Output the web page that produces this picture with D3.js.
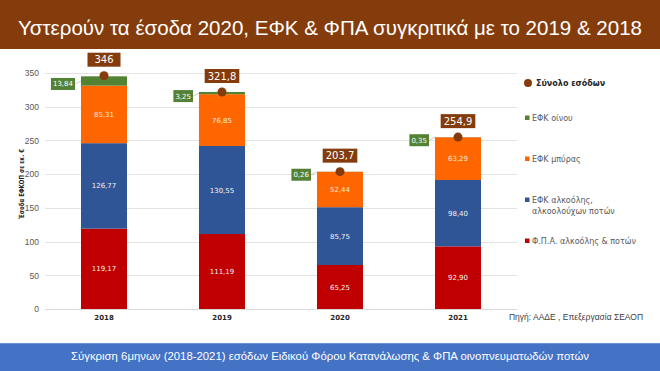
<!DOCTYPE html>
<html>
<head>
<meta charset="utf-8">
<script src="https://cdn.jsdelivr.net/npm/d3@7"></script>
<style>
  html, body { margin: 0; padding: 0; background: #fff; }
  svg { display: block; }
</style>
</head>
<body>
<svg id="chart" width="660" height="371"></svg>
<script>
// data (εκ. €)
const years = ["2018", "2019", "2020", "2021"];
const vat = [119.17, 111.19, 65.25, 92.90];        // Φ.Π.Α. αλκοόλης & ποτών
const efkAlcohol = [126.77, 130.55, 85.75, 98.40]; // ΕΦΚ αλκοόλης, αλκοολούχων ποτών
const efkBeer = [85.31, 76.85, 52.44, 63.29];      // ΕΦΚ μπύρας
const efkWine = [13.84, 3.25, 0.26, 0.35];         // ΕΦΚ οίνου
const totals = [346, 321.8, 203.7, 254.9];         // Σύνολο εσόδων
const yTicks = [0, 50, 100, 150, 200, 250, 300, 350];

const seriesKeys = ["vat", "alcohol", "beer", "wine"];
const seriesColors = { vat: "#C00000", alcohol: "#2F5597", beer: "#FF6600", wine: "#548235" };
const legendItems = [
  { label: ["Σύνολο εσόδων"], color: "#843C0C", circle: true },
  { label: ["ΕΦΚ  οίνου"], color: "#548235" },
  { label: ["ΕΦΚ μπύρας"], color: "#FF6600" },
  { label: ["ΕΦΚ  αλκοόλης,", "αλκοολούχων ποτών"], color: "#2F5597" },
  { label: ["Φ.Π.Α. αλκοόλης & ποτών"], color: "#C00000" }
];

const rows = years.map((y, i) => ({
  year: y, vat: vat[i], alcohol: efkAlcohol[i], beer: efkBeer[i], wine: efkWine[i], total: totals[i]
}));

const gr = d3.formatLocale({ decimal: ",", thousands: ".", grouping: [3], currency: ["", "€"] });
const fmt2 = gr.format(".2f");
const fmtTot = gr.format("~f");

const svg = d3.select("#chart");
const W = 660, H = 371;

// header band
svg.append("rect").attr("x", 0).attr("y", 0).attr("width", W).attr("height", 49).attr("fill", "#843C0C");
svg.append("text")
  .attr("x", 330).attr("y", 35)
  .attr("text-anchor", "middle")
  .attr("font-family", "'Liberation Sans Narrow', 'Liberation Sans', sans-serif")
  .attr("font-size", 21)
  .attr("fill", "#fff")
  .attr("textLength", 624).attr("lengthAdjust", "spacingAndGlyphs")
  .text("Υστερούν τα έσοδα 2020, ΕΦΚ & ΦΠΑ συγκριτικά με το 2019 & 2018");

// footer band
svg.append("rect").attr("x", 0).attr("y", 343).attr("width", W).attr("height", 28).attr("fill", "#4472C4");
svg.append("line").attr("x1", 0).attr("x2", W).attr("y1", 343.5).attr("y2", 343.5).attr("stroke", "#6F93D6");
svg.append("text")
  .attr("x", 330).attr("y", 360)
  .attr("text-anchor", "middle")
  .attr("font-family", "'Liberation Sans Narrow', 'Liberation Sans', sans-serif")
  .attr("font-size", 11.5)
  .attr("fill", "#fff")
  .attr("textLength", 518).attr("lengthAdjust", "spacingAndGlyphs")
  .text("Σύγκριση 6μηνων (2018-2021)  εσόδων Ειδικού Φόρου Κατανάλωσης & ΦΠΑ οινοπνευματωδών ποτών");

// plot area
const plot = { left: 45, right: 517, top: 73, bottom: 309 };

const x = d3.scaleBand()
  .domain(years)
  .range([plot.left, plot.right])
  .paddingInner(0.61)
  .paddingOuter(0.305);

const y = d3.scaleLinear()
  .domain([0, 350])
  .range([plot.bottom, plot.top]);

// gridlines
svg.append("g")
  .selectAll("line")
  .data(yTicks.filter(d => d > 0))
  .enter().append("line")
  .attr("x1", plot.left).attr("x2", plot.right)
  .attr("y1", d => Math.round(y(d)) + 0.5).attr("y2", d => Math.round(y(d)) + 0.5)
  .attr("stroke", "#E3E3E3");

// y axis labels
const yAxis = svg.append("g")
  .attr("transform", "translate(" + plot.left + ",0)")
  .call(d3.axisLeft(y).tickValues(yTicks).tickSize(0).tickPadding(6));
yAxis.select(".domain").remove();
yAxis.selectAll("text")
  .attr("font-family", "'Liberation Sans Narrow', 'Liberation Sans', sans-serif")
  .attr("font-size", 8.5)
  .attr("fill", "#595959");

// y axis title
svg.append("text")
  .attr("transform", "translate(24,184) rotate(-90)")
  .attr("text-anchor", "middle")
  .attr("font-family", "'DejaVu Sans', sans-serif")
  .attr("font-weight", "bold")
  .attr("font-size", 7)
  .attr("fill", "#262626")
  .attr("textLength", 70).attr("lengthAdjust", "spacingAndGlyphs")
  .text("Έσοδα ΕΦΚΟΠ σε εκ. €");

// stacked bars
const stack = d3.stack().keys(seriesKeys);
const layers = stack(rows);

const layerG = svg.append("g")
  .selectAll("g")
  .data(layers)
  .enter().append("g")
  .attr("fill", d => seriesColors[d.key]);

layerG.selectAll("rect")
  .data(d => d)
  .enter().append("rect")
  .attr("x", d => x(d.data.year))
  .attr("width", x.bandwidth())
  .attr("y", d => y(d[1]))
  .attr("height", d => y(d[0]) - y(d[1]));

// x axis
svg.append("line")
  .attr("x1", plot.left).attr("x2", plot.right)
  .attr("y1", plot.bottom + 0.5).attr("y2", plot.bottom + 0.5)
  .attr("stroke", "#D9D9D9");

const xAxis = svg.append("g")
  .attr("transform", "translate(0," + plot.bottom + ")")
  .call(d3.axisBottom(x).tickSize(0).tickPadding(6));
xAxis.select(".domain").remove();
xAxis.selectAll("text")
  .attr("font-family", "'DejaVu Sans', sans-serif")
  .attr("font-weight", "bold")
  .attr("font-size", 7)
  .attr("fill", "#262626");

// value labels inside the three big segments
layers.filter(l => l.key !== "wine").forEach(l => {
  svg.append("g")
    .selectAll("text")
    .data(l)
    .enter().append("text")
    .attr("x", d => x(d.data.year) + x.bandwidth() / 2)
    .attr("y", d => (y(d[0]) + y(d[1])) / 2 + 2.5)
    .attr("text-anchor", "middle")
    .attr("font-family", "'DejaVu Sans', sans-serif")
    .attr("font-size", 7)
    .attr("fill", l.key === "beer" ? "#FDEBDD" : "#F2F2F2")
    .text(d => fmt2(d.data[l.key]));
});

// wine labels: green boxes to the left with a leader line
const wineLayer = layers.find(l => l.key === "wine");
const wineG = svg.append("g")
  .selectAll("g")
  .data(wineLayer)
  .enter().append("g");

wineG.each(function(d) {
  const g = d3.select(this);
  const midY = (y(d[0]) + y(d[1])) / 2;
  const boxRight = x(d.data.year) - 6;
  const cy = midY + 3;
  const txt = g.append("text")
    .attr("text-anchor", "end")
    .attr("font-family", "'DejaVu Sans', sans-serif")
    .attr("font-size", 7)
    .attr("fill", "#fff")
    .text(fmt2(d.data.wine));
  const tw = txt.node().getComputedTextLength();
  g.insert("rect", "text")
    .attr("x", boxRight - tw - 4).attr("y", cy - 6)
    .attr("width", tw + 4).attr("height", 12)
    .attr("fill", "#548235");
  txt.attr("x", boxRight - 2).attr("y", cy + 2.5);
  g.append("line")
    .attr("x1", boxRight).attr("y1", cy)
    .attr("x2", x(d.data.year)).attr("y2", midY)
    .attr("stroke", "#BFBFBF").attr("stroke-width", 0.8);
});

// totals: brown marker + label box
const totG = svg.append("g")
  .selectAll("g")
  .data(rows)
  .enter().append("g");

totG.append("circle")
  .attr("cx", d => x(d.year) + x.bandwidth() / 2)
  .attr("cy", d => y(d.total))
  .attr("r", 4.5)
  .attr("fill", "#843C0C");

totG.each(function(d) {
  const g = d3.select(this);
  const cx = x(d.year) + x.bandwidth() / 2;
  const cy = y(d.total);
  const txt = g.append("text")
    .attr("x", cx).attr("y", cy - 12.5)
    .attr("text-anchor", "middle")
    .attr("font-family", "'DejaVu Sans', sans-serif")
    .attr("font-size", 10)
    .attr("fill", "#fff")
    .text(fmtTot(d.total));
  const tw = txt.node().getComputedTextLength();
  const bw = Math.max(tw + 6, 33);
  g.insert("rect", "text")
    .attr("x", cx - bw / 2).attr("y", cy - 23)
    .attr("width", bw).attr("height", 14)
    .attr("fill", "#843C0C");
});

// legend
const legendY = [83, 118, 159, 200, 241];
const legend = svg.append("g")
  .selectAll("g")
  .data(legendItems)
  .enter().append("g")
  .attr("transform", (d, i) => "translate(526," + legendY[i] + ")");

legend.each(function(d) {
  const g = d3.select(this);
  if (d.circle) {
    g.append("circle").attr("cx", 2).attr("cy", 0).attr("r", 4).attr("fill", d.color);
  } else {
    g.append("rect").attr("x", -1).attr("y", -2.5).attr("width", 4.5).attr("height", 4.5).attr("fill", d.color);
  }
  g.selectAll("text")
    .data(d.label)
    .enter().append("text")
    .attr("x", d.circle ? 10 : 6)
    .attr("y", (t, j) => 3 + j * 11)
    .attr("font-family", "'DejaVu Sans', sans-serif")
    .attr("font-size", 8)
    .attr("font-weight", d.circle ? "bold" : "normal")
    .attr("fill", d.circle ? "#262626" : "#595959")
    .text(t => t);
});

// source note
svg.append("text")
  .attr("x", 509).attr("y", 320)
  .attr("font-family", "'Liberation Sans Narrow', 'Liberation Sans', sans-serif")
  .attr("font-size", 9)
  .attr("fill", "#404040")
  .attr("textLength", 134).attr("lengthAdjust", "spacingAndGlyphs")
  .text("Πηγή: ΑΑΔΕ , Επεξεργασία ΣΕΑΟΠ");
</script>
</body>
</html>
